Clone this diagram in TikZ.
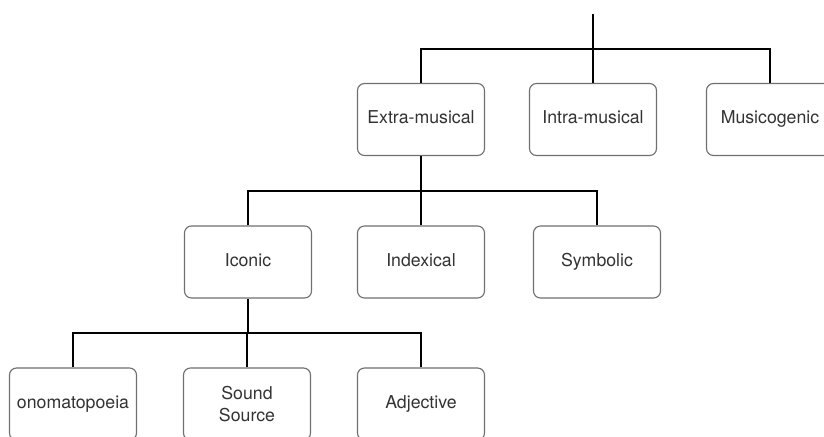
\documentclass[tikz,border=0pt]{standalone}
\usepackage{fontspec}
\setmainfont{TeX Gyre Heros}
\usepackage{tikz}
\definecolor{boxgray}{HTML}{707070}
\definecolor{textgray}{HTML}{333333}
\usetikzlibrary{positioning}
\tikzstyle{branch} = [line width=2pt, black]

\begin{document}
\begin{tikzpicture}[x=0.025cm, y=-0.025cm]
                    \tikzstyle{every node}=[font=\fontsize{12.6}{15.5}\selectfont, text=textgray]
                    \tikzstyle{catbox} = [rectangle, rounded corners=5pt, draw=boxgray, line width=0.8pt, fill=white, minimum width=3.175cm, minimum height=1.8cm, align=center, text height=1.6ex, text depth=0.4ex]

                    \useasboundingbox (0,0) rectangle (824,436);
                    \clip (0,0) rectangle (824,436);

                    % top level
                    \coordinate (root) at (593,14);
                    \coordinate (j1) at (593,49);
                    \node[catbox](extra) at (421,119.5) {Extra-musical};
                    \node[catbox](intra) at (593,119.5) {Intra-musical};
                    \node[catbox](musico) at (770,119.5) {Musicogenic};

                    % second level
                    \coordinate (j2) at (421,191);
                    \node[catbox](iconic) at (248,262) {Iconic};
                    \node[catbox](indexical) at (421,262) {Indexical};
                    \node[catbox](symbolic) at (597,262) {Symbolic};

                    % third level
                    \coordinate (j3) at (248,333);
                    \node[catbox](onomato) at (73,404) {onomatopoeia};
                    \node[catbox, text height=, text depth=](sound) at (247,404) {Sound\\Source};
                    \node[catbox](adjective) at (421,404) {Adjective};

                    \draw[branch] (root) -- (intra.north);
                    \draw[branch] (extra.north) |- (j1) -| (musico.north);

                    \draw[branch] (extra.south) -- (indexical.north);
                    \draw[branch] (iconic.north) |- (j2) -| (symbolic.north);

                    \draw[branch] (iconic.south) -- (j3);
                    \draw[branch] (onomato.north) |- (j3) -| (adjective.north);
                    \draw[branch] (sound.north) -- (sound.north |- j3);
            \end{tikzpicture}
\end{document}
